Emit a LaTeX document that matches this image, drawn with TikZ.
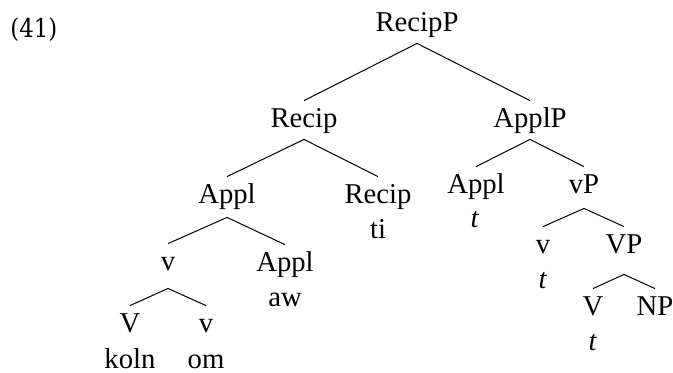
\documentclass[tikz,border=0pt]{standalone}
\usepackage{fontspec}
\setmainfont{Liberation Serif}
\newfontfamily\exfont[FakeStretch=0.88]{DejaVu Serif}
\begin{document}
\begin{tikzpicture}[x=0.5pt,y=-0.5pt,
  cat/.style={font=\fontsize{14.35}{17}\selectfont, inner sep=0pt,
              text height=13pt, text depth=6pt, anchor=base},
  apex/.style={text depth=#1*0.5pt},
  gloss/.style={font=\fontsize{14.35}{17}\selectfont, inner sep=0pt, anchor=base},
  branch/.style={line width=0.5pt}]
\useasboundingbox (0,0) rectangle (673,372);

% example number
\node[font=\exfont\fontsize{13}{15}\selectfont, inner sep=0pt, anchor=base west]
  (exnum) at (10,37) {(41)};

% categories (x = centre, y = baseline)
\node[cat]            (recipP) at (417,31)  {RecipP};
\node[cat]            (recip)  at (304,127) {Recip};
\node[cat]            (applP)  at (530,127) {ApplP};
\node[cat, apex=14]   (applA)  at (227,203) {Appl};
\node[cat]            (recipB) at (378,203) {Recip};
\node[cat]            (applB)  at (476,193) {Appl};
\node[cat, apex=15]   (vP)     at (584,193) {vP};
\node[cat, apex=18]   (vA)     at (168,270) {v};
\node[cat]            (applC)  at (285,271) {Appl};
\node[cat]            (vB)     at (543,253) {v};
\node[cat, apex=21]   (VPa)    at (624,253) {VP};
\node[cat]            (Va)     at (130,332) {V};
\node[cat]            (vC)     at (206,332) {v};
\node[cat]            (Vb)     at (593,315) {V};
\node[cat]            (NP)     at (655,315) {NP};

% lexical material under the heads
\node[gloss] (gti)   at (378,238) {ti};
\node[gloss] (gtA)   at (475,227) {\textit{t}};
\node[gloss] (gaw)   at (285,306) {aw};
\node[gloss] (gtB)   at (543,288) {\textit{t}};
\node[gloss] (gkoln) at (130,368) {koln};
\node[gloss] (gom)   at (206,368) {om};
\node[gloss] (gtC)   at (593,350) {\textit{t}};

% branches
\draw[branch] (recip.north) -- (recipP.south) -- (applP.north);
\draw[branch] (applA.north) -- (recip.south)  -- (recipB.north);
\draw[branch] (applB.north) -- (applP.south)  -- (vP.north);
\draw[branch] (vA.north)    -- (applA.south)  -- (applC.north);
\draw[branch] (vB.north)    -- (vP.south)     -- (VPa.north);
\draw[branch] (Va.north)    -- (vA.south)     -- (vC.north);
\draw[branch] (Vb.north)    -- (VPa.south)    -- (NP.north);
\end{tikzpicture}
\end{document}
